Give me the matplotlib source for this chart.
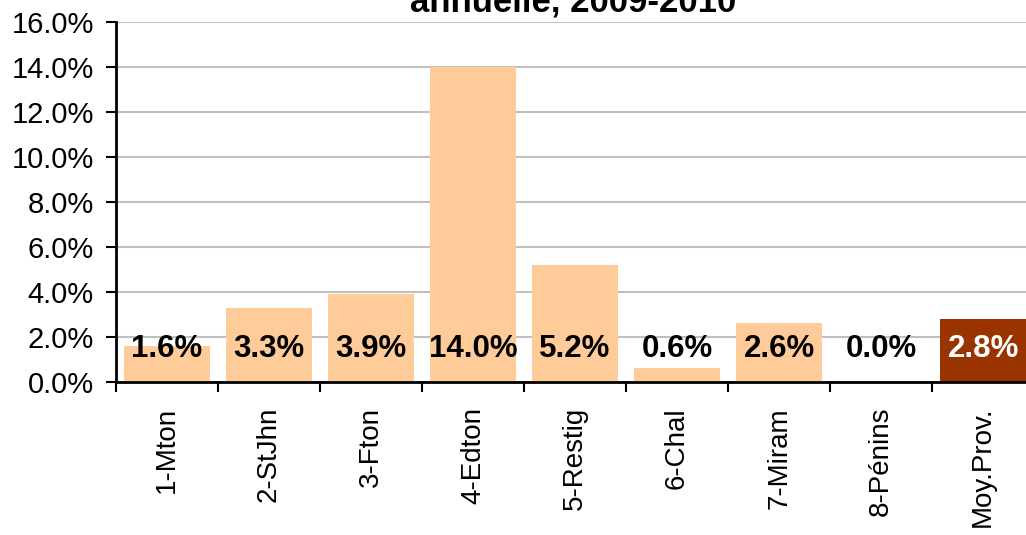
import numpy as np
import matplotlib.pyplot as plt
from matplotlib.ticker import FuncFormatter, FixedLocator

# Chart data
categories = ['1-Mton', '2-StJhn', '3-Fton', '4-Edton', '5-Restig',
              '6-Chal', '7-Miram', '8-Pénins', 'Moy.Prov.']
values = [1.6, 3.3, 3.9, 14.0, 5.2, 0.6, 2.6, 0.0, 2.8]
title_lines = ['Variation de la population', 'annuelle, 2009-2010']

plt.rcParams['font.family'] = ['Liberation Sans', 'DejaVu Sans']

fig = plt.figure(figsize=(10.26, 5.35), dpi=100)
ax = fig.add_axes([0.113, 0.286, 0.895, 0.673])

x = np.arange(len(categories))
colors = ['#FFCC99'] * (len(categories) - 1) + ['#993300']
ax.bar(x, values, width=0.84, color=colors, zorder=2)

# value labels sit near the base of each bar
for xi, v, c in zip(x, values, colors):
    txt_color = 'white' if c == '#993300' else 'black'
    ax.text(xi, 1.45, f'{v:.1f}%', ha='center', va='center',
            fontsize=22.5, fontweight='bold', color=txt_color, zorder=3)

ax.set_xlim(-0.5, len(categories) - 0.5)
ax.set_ylim(0, 16)
ax.set_yticks(np.arange(0, 16.1, 2))
ax.yaxis.set_major_formatter(FuncFormatter(lambda v, p: f'{v:.1f}%'))
ax.grid(axis='y', color='#c0c0c0', linewidth=1.5, zorder=0)
ax.set_axisbelow(True)

# category labels centred, tick marks at boundaries
ax.set_xticks(x)
ax.set_xticklabels(categories, rotation=90, fontsize=20)
ax.tick_params(axis='x', length=0, pad=18)
ax.xaxis.set_minor_locator(FixedLocator(np.arange(-0.5, len(categories), 1)))
ax.tick_params(axis='x', which='minor', length=7, width=1.5, direction='out')
ax.tick_params(axis='y', labelsize=21, length=7, width=1.5, direction='out', pad=9)

for side in ['top', 'right']:
    ax.spines[side].set_visible(False)
for side in ['left', 'bottom']:
    ax.spines[side].set_linewidth(2)

fig.text(0.559, 0.979, '\n'.join(title_lines), ha='center', va='baseline',
         fontsize=25, fontweight='bold', linespacing=1.1)

fig.savefig('out.png', dpi=100)
